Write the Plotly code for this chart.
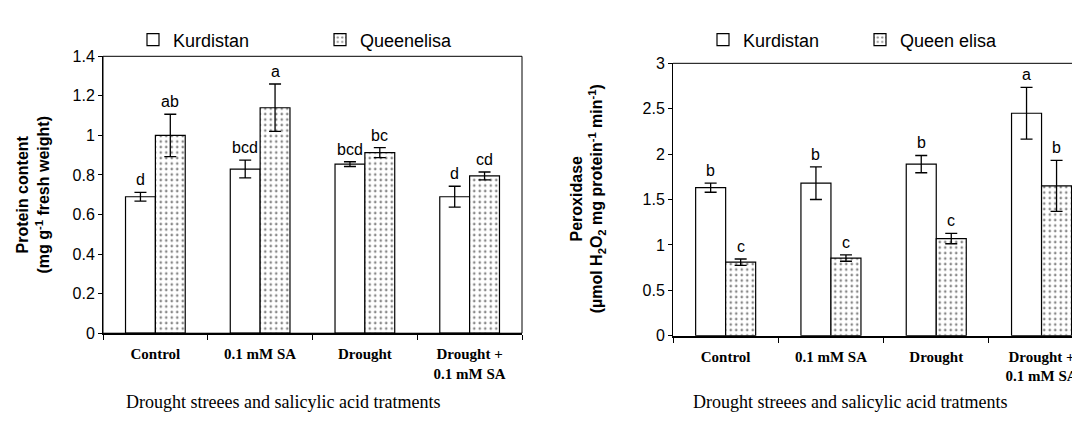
import plotly.graph_objects as go

categories = ["Control", "0.1 mM SA", "Drought", "Drought +<br>0.1 mM SA"]

protein_kurd = [0.69, 0.83, 0.855, 0.69]
protein_kurd_err = [0.022, 0.045, 0.012, 0.053]
protein_queen = [1.00, 1.14, 0.913, 0.795]
protein_queen_err = [0.107, 0.12, 0.025, 0.02]
protein_kurd_letters = ["d", "bcd", "bcd", "d"]
protein_queen_letters = ["ab", "a", "bc", "cd"]

perox_kurd = [1.63, 1.68, 1.89, 2.45]
perox_kurd_err = [0.05, 0.18, 0.095, 0.285]
perox_queen = [0.81, 0.855, 1.07, 1.65]
perox_queen_err = [0.035, 0.035, 0.057, 0.28]
perox_kurd_letters = ["b", "b", "b", "a"]
perox_queen_letters = ["c", "c", "c", "b"]

W, H = 1080, 423
SANS = "Liberation Sans, Arial, sans-serif"
SERIF = "Liberation Serif, Times New Roman, serif"

def px_x(p):
    return p / W

def px_y(p):
    return (H - p) / H

plain = dict(color="white", line=dict(color="black", width=1.2))
dotted = dict(color="white", line=dict(color="black", width=1.2),
              pattern=dict(shape=".", fgcolor="#111", bgcolor="white", size=5.5, solidity=0.18))
err_style = dict(type="data", color="black", thickness=1.3, width=6, visible=True)

fig = go.Figure()
fig.add_trace(go.Bar(x=categories, y=protein_kurd, name="Kurdistan", marker=plain,
                     error_y=dict(array=protein_kurd_err, **err_style),
                     xaxis="x", yaxis="y", legend="legend"))
fig.add_trace(go.Bar(x=categories, y=protein_queen, name="Queenelisa", marker=dotted,
                     error_y=dict(array=protein_queen_err, **err_style),
                     xaxis="x", yaxis="y", legend="legend"))
fig.add_trace(go.Bar(x=categories, y=perox_kurd, name="Kurdistan", marker=plain,
                     error_y=dict(array=perox_kurd_err, **err_style),
                     xaxis="x2", yaxis="y2", legend="legend2"))
fig.add_trace(go.Bar(x=categories, y=perox_queen, name="Queen elisa", marker=dotted,
                     error_y=dict(array=perox_queen_err, **err_style),
                     xaxis="x2", yaxis="y2", legend="legend2"))

ann = []
off = 0.1425
for ax, vals, errs, letters, sign in [
    ("", protein_kurd, protein_kurd_err, protein_kurd_letters, -1),
    ("", protein_queen, protein_queen_err, protein_queen_letters, 1),
    ("2", perox_kurd, perox_kurd_err, perox_kurd_letters, -1),
    ("2", perox_queen, perox_queen_err, perox_queen_letters, 1),
]:
    for i, (v, e, t) in enumerate(zip(vals, errs, letters)):
        ann.append(dict(x=i + sign * off, y=v + e, xref="x" + ax, yref="y" + ax, text=t,
                        showarrow=False, yanchor="bottom", yshift=2,
                        font=dict(family=SANS, size=16, color="black")))

# y-axis titles
ann.append(dict(x=px_x(25), y=px_y(186), xref="paper", yref="paper", textangle=-90,
                text="<b>Protein content<br>(mg g<sup>-1</sup> fresh weight)</b>",
                showarrow=False, xanchor="center", yanchor="middle",
                font=dict(family=SANS, size=16, color="black")))
ann.append(dict(x=px_x(580), y=px_y(191), xref="paper", yref="paper", textangle=-90,
                text="<b>Peroxidase<br>(µmol H<sub>2</sub>O<sub>2</sub> mg protein<sup>-1</sup> min<sup>-1</sup>)</b>",
                showarrow=False, xanchor="center", yanchor="middle",
                font=dict(family=SANS, size=16, color="black")))
# footers
for cx in (275, 842):
    ann.append(dict(x=px_x(cx), y=px_y(402), xref="paper", yref="paper",
                    text="Drought streees and salicylic acid tratments",
                    showarrow=False, xanchor="center", yanchor="middle",
                    font=dict(family=SERIF, size=18, color="black")))

shapes = [
    dict(type="rect", xref="x domain", yref="y domain", x0=0, x1=1, y0=0, y1=1,
         line=dict(color="black", width=1), layer="above"),
    dict(type="line", xref="x2 domain", yref="y2 domain", x0=0, x1=1, y0=1, y1=1,
         line=dict(color="black", width=1), layer="above"),
]

yax_common = dict(showgrid=False, zeroline=False, showline=True, linecolor="black", linewidth=1,
                  ticks="outside", ticklen=4, tickcolor="black",
                  tickfont=dict(family=SANS, size=16, color="black"))
xax_common = dict(showgrid=False, zeroline=False, showline=True, linecolor="black", linewidth=2,
                  ticks="outside", ticklen=5, tickcolor="black", tickson="boundaries",
                  ticklabelstandoff=6,
                  tickfont=dict(family=SERIF, size=15, color="black", weight="bold"))

fig.update_layout(
    width=W, height=H, margin=dict(l=0, r=0, t=0, b=0),
    paper_bgcolor="white", plot_bgcolor="white",
    barmode="group", bargap=0.43, bargroupgap=0,
    xaxis=dict(domain=[px_x(95), px_x(514)], anchor="y", range=[-0.5, 3.5], **xax_common),
    yaxis=dict(domain=[px_y(330.5), px_y(42)], anchor="x", range=[0, 1.4], dtick=0.2, **yax_common),
    xaxis2=dict(domain=[px_x(665), 1.0], anchor="y2", range=[-0.5, -0.5 + 415 / 105.3], **xax_common),
    yaxis2=dict(domain=[px_y(333.1), px_y(49.3)], anchor="x2", range=[0, 3], dtick=0.5, **yax_common),
    legend=dict(orientation="h", x=px_x(125), y=px_y(25), xanchor="left", yanchor="middle",
                entrywidth=142, font=dict(family=SANS, size=18, color="black"), bgcolor="rgba(0,0,0,0)"),
    legend2=dict(orientation="h", x=px_x(695), y=px_y(25), xanchor="left", yanchor="middle",
                 entrywidth=112, font=dict(family=SANS, size=18, color="black"), bgcolor="rgba(0,0,0,0)"),
    annotations=ann, shapes=shapes,
    font=dict(family=SANS, color="black"),
)
fig.update_xaxes(tickangle=0)

fig.write_html("out.html")
